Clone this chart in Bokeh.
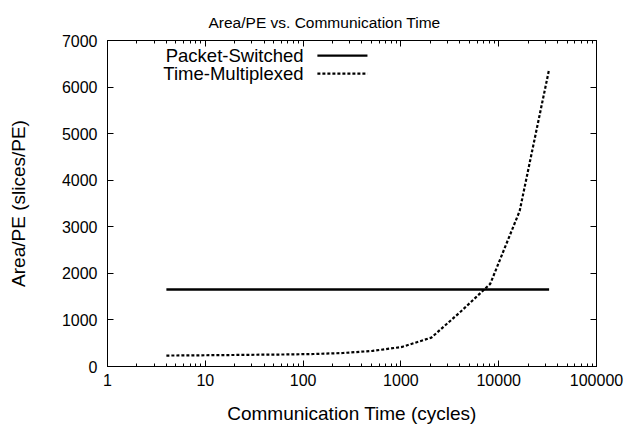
from bokeh.plotting import figure
from bokeh.models import (FixedTicker, SingleIntervalTicker, LogAxis, LinearAxis,
                          PrintfTickFormatter, Range1d)
from bokeh.core.properties import value
from bokeh.embed import file_html
from bokeh.resources import INLINE

# ---- data ----
comm_time = [4, 8, 16, 32, 64, 128, 256, 512, 1024, 2048, 4096, 8192, 16384, 32768]
packet_switched = [1655] * len(comm_time)
time_multiplexed = [235, 240, 245, 252, 258, 268, 290, 335, 420, 620, 1180, 1775, 3340, 6380]

x_major_ticks = [1, 10, 100, 1000, 10000, 100000]
x_minor_ticks = [m * d for d in [1, 10, 100, 1000, 10000] for m in range(2, 10)]
series_names = ["Packet-Switched", "Time-Multiplexed"]
title_text = "Area/PE vs. Communication Time"

FONT = "Liberation Sans"

p = figure(
    x_axis_type="log",
    x_range=Range1d(1, 100000),
    y_range=Range1d(0, 7000),
    frame_width=489, frame_height=326,
    min_border_left=107, min_border_top=40, min_border_right=30, min_border_bottom=60,
    output_backend="svg", toolbar_location=None,
    title=title_text,
)
p.title.align = "left"
p.title.offset = 101
p.title.text_font = FONT
p.title.text_font_style = "normal"
p.title.text_font_size = "15.5px"
p.title.text_color = "black"
p.title.standoff = 19

p.xgrid.visible = False
p.ygrid.visible = False
p.outline_line_color = "black"
p.outline_line_width = 1
p.background_fill_color = "white"
p.border_fill_color = "white"

xticker = FixedTicker(ticks=x_major_ticks, minor_ticks=x_minor_ticks)
yticker = SingleIntervalTicker(interval=1000, num_minor_ticks=0)


def style_axis(ax, labels=True):
    ax.axis_line_color = "black"
    ax.major_tick_line_color = "black"
    ax.minor_tick_line_color = "black"
    ax.major_tick_in = 6
    ax.major_tick_out = 0
    ax.minor_tick_in = 3
    ax.minor_tick_out = 0
    ax.major_label_text_font = FONT
    ax.major_label_text_color = "black"
    ax.axis_label_text_font = FONT
    ax.axis_label_text_font_style = "normal"
    ax.axis_label_text_color = "black"
    if not labels:
        ax.major_label_text_color = None
        ax.major_label_text_font_size = "2px"
        ax.major_label_standoff = 0


xa = p.xaxis[0]
xa.ticker = xticker
xa.formatter = PrintfTickFormatter(format="%d")
style_axis(xa)
xa.major_label_text_font_size = "16px"
xa.major_label_standoff = 7
xa.axis_label = "Communication Time (cycles)"
xa.axis_label_text_font_size = "19px"
xa.axis_label_standoff = 14

ya = p.yaxis[0]
ya.ticker = yticker
style_axis(ya)
ya.major_label_text_font_size = "16px"
ya.major_label_standoff = 10
ya.axis_label = "Area/PE (slices/PE)"
ya.axis_label_text_font_size = "19px"
ya.axis_label_standoff = 30

# mirrored top border ticks
top = LogAxis(ticker=xticker)
style_axis(top, labels=False)
p.add_layout(top, "above")

right = LinearAxis(ticker=yticker)
style_axis(right, labels=False)
p.add_layout(right, "right")

# ---- series ----
p.line(comm_time, packet_switched, line_color="black", line_width=2.5)
p.line(comm_time, time_multiplexed, line_color="black", line_width=2.2, line_dash="3 2")

# ---- gnuplot-style legend: text right-aligned, sample line to the right ----
leg_text_x = 101
leg_line_x = [140, 455]
leg_rows_y = [6675, 6290]
leg_dashes = ["solid", "3 2"]
for name, yy, dash in zip(series_names, leg_rows_y, leg_dashes):
    p.text(x=[leg_text_x], y=[yy], text=[name], text_align="right", text_baseline="middle",
           text_font=value(FONT), text_font_size="18.5px", text_color="black")
    p.line(leg_line_x, [yy, yy], line_color="black", line_width=2.2, line_dash=dash)

open("out.html", "w").write(file_html(p, INLINE))
